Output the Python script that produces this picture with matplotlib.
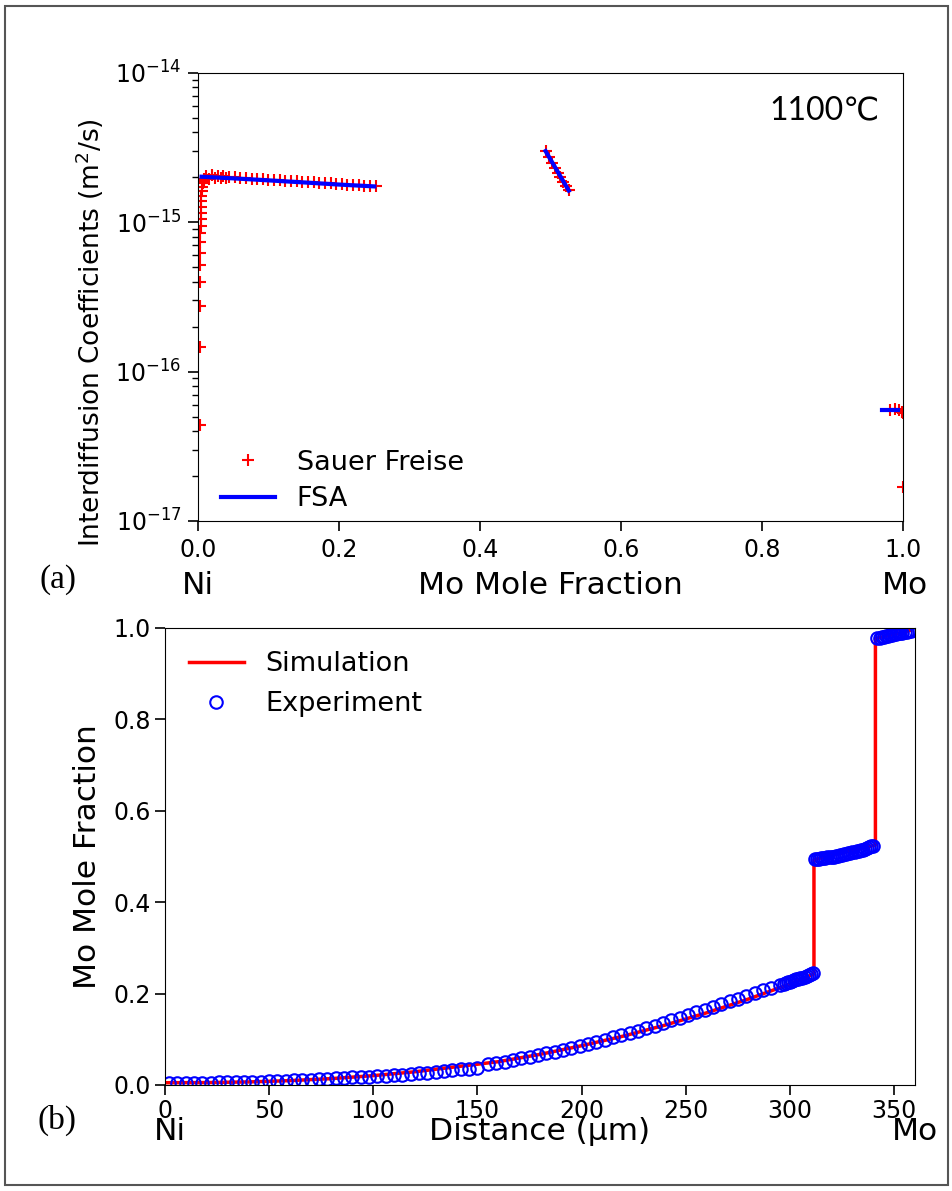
import matplotlib.pyplot as plt
from matplotlib.patches import Rectangle

# ---- panel (a): interdiffusion coefficients vs Mo mole fraction ----
# Sauer-Freise, Ni-rich end (steep rise) + Ni solid solution
sf_x_ni = [0.0028, 0.0029, 0.0030, 0.0031, 0.0032, 0.0033, 0.0034, 0.0035, 0.0036,
           0.0038, 0.0040, 0.0042, 0.0045, 0.0048, 0.0052, 0.0058, 0.0066, 0.0076, 0.0090]
sf_d_ni = [4.4e-17, 1.46e-16, 2.75e-16, 3.98e-16, 5.2e-16, 6.2e-16, 7.4e-16, 8.5e-16, 9.4e-16,
           1.05e-15, 1.15e-15, 1.26e-15, 1.38e-15, 1.5e-15, 1.62e-15, 1.72e-15, 1.82e-15, 1.88e-15, 1.92e-15]
sf_x_ss = [0.008, 0.012, 0.016, 0.020, 0.024, 0.028, 0.032, 0.036, 0.040, 0.044, 0.052,
           0.060, 0.068, 0.076, 0.084, 0.092, 0.100, 0.108, 0.116, 0.124, 0.132, 0.140,
           0.148, 0.156, 0.164, 0.172, 0.180, 0.188, 0.196, 0.204, 0.212, 0.220, 0.228,
           0.236, 0.244, 0.252]
sf_d_ss = [1.95e-15, 2.05e-15, 1.96e-15, 2.06e-15, 1.97e-15, 2.05e-15, 1.97e-15, 2.04e-15, 1.97e-15,
           2.02e-15, 2.00e-15, 1.98e-15, 1.97e-15, 1.96e-15, 1.95e-15, 1.94e-15, 1.93e-15,
           1.92e-15, 1.91e-15, 1.90e-15, 1.89e-15, 1.88e-15, 1.87e-15, 1.86e-15, 1.85e-15,
           1.84e-15, 1.83e-15, 1.82e-15, 1.81e-15, 1.80e-15, 1.79e-15, 1.78e-15, 1.77e-15,
           1.76e-15, 1.75e-15, 1.74e-15]
# delta (NiMo) phase
sf_x_mid = [0.494, 0.498, 0.502, 0.506, 0.510, 0.514, 0.518, 0.522, 0.526]
sf_d_mid = [3.0e-15, 2.75e-15, 2.5e-15, 2.3e-15, 2.15e-15, 2.0e-15, 1.85e-15, 1.75e-15, 1.65e-15]
# Mo-rich end
sf_x_mo = [0.982, 0.989, 0.994, 0.998, 1.0, 1.0]
sf_d_mo = [5.5e-17, 5.6e-17, 5.5e-17, 5.4e-17, 5.3e-17, 1.7e-17]

fsa_x_ss = [0.005, 0.05, 0.10, 0.15, 0.20, 0.25]
fsa_d_ss = [2.02e-15, 1.97e-15, 1.91e-15, 1.85e-15, 1.79e-15, 1.74e-15]
fsa_x_mid = [0.493, 0.526]
fsa_d_mid = [3.0e-15, 1.63e-15]
fsa_x_mo = [0.970, 0.993]
fsa_d_mo = [5.5e-17, 5.5e-17]

# ---- panel (b): concentration profile ----
sim_x = [0, 20, 40, 60, 80, 100, 120, 140, 160, 180, 200, 220, 240, 260, 280, 300,
         311.5, 311.5, 341, 341, 358]
sim_y = [0.005, 0.0053, 0.0067, 0.0096, 0.014, 0.0205, 0.029, 0.040, 0.051, 0.067,
         0.086, 0.107, 0.131, 0.158, 0.188, 0.221, 0.243, 0.493, 0.525, 0.977, 0.995]

exp_x = [2, 6, 10, 14, 18, 22, 26, 30, 34, 38, 42, 46, 50, 54, 58, 62, 66, 70, 74, 78,
         82, 86, 90, 94, 98, 102, 106, 110, 114, 118, 122, 126, 130, 134, 138, 142, 146, 150,
         155, 159, 163, 167, 171, 175, 179, 183, 187, 191, 195, 199, 203, 207, 211, 215,
         219, 223, 227, 231, 235, 239, 243, 247, 251, 255, 259, 263, 267, 271, 275, 279,
         283, 287, 291, 295, 297, 298, 299, 300, 301, 302, 303, 304, 305, 306, 307, 308,
         309, 310, 311,
         312, 313, 314, 315, 316, 317, 318, 319, 320, 321, 322, 323, 324, 325, 326, 327,
         328, 329, 330, 331, 332, 333, 334, 335, 336, 337, 338, 339, 340,
         342, 343, 344, 345, 346, 347, 348, 349, 350, 351, 352, 353, 354, 355, 356, 357, 358]
exp_y = [0.005, 0.005, 0.005, 0.005, 0.005, 0.0054, 0.0056, 0.0059, 0.0062, 0.0065,
         0.0069, 0.0074, 0.0079, 0.0085, 0.0092, 0.0099, 0.0107, 0.0116, 0.0126, 0.0136,
         0.0147, 0.0158, 0.0168, 0.0178, 0.0185, 0.0192, 0.020, 0.021, 0.0225, 0.024,
         0.0255, 0.027, 0.0285, 0.030, 0.032, 0.034, 0.036, 0.038,
         0.045, 0.048, 0.051, 0.054, 0.058, 0.061, 0.065, 0.069, 0.073, 0.077, 0.081,
         0.086, 0.090, 0.095, 0.099, 0.104, 0.109, 0.114, 0.119, 0.125, 0.130, 0.136,
         0.142, 0.147, 0.153, 0.159, 0.165, 0.171, 0.177, 0.183, 0.189, 0.195, 0.201,
         0.207, 0.213, 0.219, 0.222, 0.223, 0.225, 0.226, 0.228, 0.229, 0.231, 0.232,
         0.234, 0.235, 0.237, 0.238, 0.240, 0.242, 0.244,
         0.494, 0.495, 0.495, 0.496, 0.497, 0.497, 0.498, 0.499, 0.500, 0.500, 0.501,
         0.502, 0.503, 0.504, 0.505, 0.506, 0.507, 0.508, 0.509, 0.510, 0.511, 0.512,
         0.514, 0.515, 0.517, 0.518, 0.520, 0.522, 0.524,
         0.978, 0.979, 0.980, 0.981, 0.982, 0.983, 0.984, 0.985, 0.986, 0.987, 0.988,
         0.989, 0.990, 0.991, 0.992, 0.993, 0.994]

W, H = 953, 1191
fig = plt.figure(figsize=(W / 100, H / 100), dpi=100)
fig.patches.append(Rectangle((5 / W, 6 / H), 943 / W, 1179 / H, transform=fig.transFigure,
                             fill=False, edgecolor='#555555', linewidth=1.5))

# panel (a)
ax1 = fig.add_axes([198 / W, 1 - 521 / H, 705 / W, 448 / H])
ax1.plot(sf_x_ni + sf_x_ss, sf_d_ni + sf_d_ss, 'r+', ms=8, mew=1.5, label='Sauer Freise')
ax1.plot(sf_x_mid, sf_d_mid, 'r+', ms=8, mew=1.5)
ax1.plot(sf_x_mo, sf_d_mo, 'r+', ms=8, mew=1.5)
ax1.plot(fsa_x_ss, fsa_d_ss, 'b-', lw=3, label='FSA')
ax1.plot(fsa_x_mid, fsa_d_mid, 'b-', lw=3)
ax1.plot(fsa_x_mo, fsa_d_mo, 'b-', lw=3)
ax1.set_yscale('log')
ax1.set_xlim(0, 1)
ax1.set_ylim(1e-17, 1e-14)
ax1.set_xticks([0.0, 0.2, 0.4, 0.6, 0.8, 1.0])
ax1.tick_params(labelsize=17, length=7, width=1.2, pad=5)
ax1.tick_params(which='minor', length=4, width=1)
ax1.text(0.967, 0.917, '1100℃', transform=ax1.transAxes, ha='right', va='center',
         fontsize=23, family=['Lato', 'DejaVu Sans'])
ax1.legend(loc='lower left', frameon=False, fontsize=19.5, handlelength=2.0,
           labelspacing=0.4, borderaxespad=0, bbox_to_anchor=(0.017, -0.005))
fig.text(90 / W, 1 - 333 / H, 'Interdiffusion Coefficients (m$^2$/s)', rotation=90,
         ha='center', va='center', fontsize=19)
fig.text(550 / W, 1 - 586 / H, 'Mo Mole Fraction', ha='center', va='center', fontsize=22.5)
fig.text(198 / W, 1 - 586 / H, 'Ni', ha='center', va='center', fontsize=22.5)
fig.text(905 / W, 1 - 586 / H, 'Mo', ha='center', va='center', fontsize=22.5)
fig.text(58 / W, 1 - 580 / H, '(a)', ha='center', va='center', fontsize=24,
         family='Liberation Serif')

# panel (b)
ax2 = fig.add_axes([165 / W, 1 - 1085 / H, 750 / W, 457 / H])
ax2.plot(sim_x, sim_y, 'r-', lw=2.5, label='Simulation')
ax2.plot(exp_x, exp_y, 'o', mfc='none', mec='b', ms=9, mew=1.5, label='Experiment')
ax2.set_xlim(0, 360)
ax2.set_ylim(0, 1)
ax2.set_xticks([0, 50, 100, 150, 200, 250, 300, 350])
ax2.set_yticks([0.0, 0.2, 0.4, 0.6, 0.8, 1.0])
ax2.tick_params(labelsize=17, length=7, width=1.2, pad=3)
ax2.legend(loc='upper left', frameon=False, fontsize=19.5, handlelength=2.0,
           bbox_to_anchor=(0.0, 1.002))
fig.text(88 / W, 1 - 857 / H, 'Mo Mole Fraction', rotation=90, ha='center', va='center',
         fontsize=22.5)
fig.text(540 / W, 1 - 1131 / H, 'Distance (µm)', ha='center', va='center', fontsize=22.5)
fig.text(170 / W, 1 - 1131 / H, 'Ni', ha='center', va='center', fontsize=22.5)
fig.text(915 / W, 1 - 1131 / H, 'Mo', ha='center', va='center', fontsize=22.5)
fig.text(57 / W, 1 - 1120 / H, '(b)', ha='center', va='center', fontsize=24,
         family='Liberation Serif')

fig.savefig('out.png', dpi=100)
